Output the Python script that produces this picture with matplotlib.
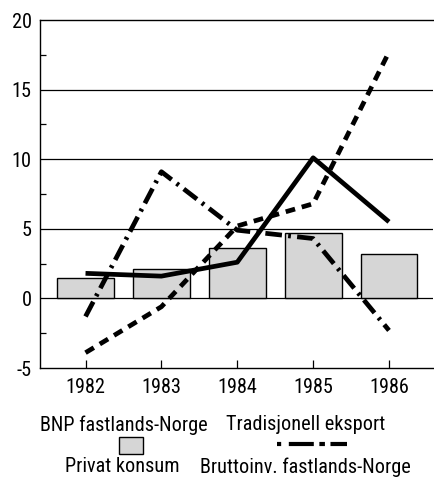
import matplotlib
matplotlib.use("Agg")
import matplotlib.pyplot as plt
from matplotlib.patches import Rectangle
from matplotlib.lines import Line2D
from matplotlib.textpath import TextPath
from matplotlib.font_manager import FontProperties
import numpy as np

years = ["1982", "1983", "1984", "1985", "1986"]
privat_konsum = [1.5, 2.1, 3.6, 4.7, 3.2]
bnp_fastland = [1.8, 1.6, 2.6, 10.1, 5.5]
trad_eksport = [-3.9, -0.6, 5.2, 6.8, 17.7]
bruttoinv = [-1.3, 9.1, 4.9, 4.3, -2.3]
yticks = [-5, 0, 5, 10, 15, 20]

FAMILY = 'Roboto Condensed'
plt.rcParams['font.family'] = [FAMILY, 'DejaVu Sans']
plt.rcParams['lines.scale_dashes'] = False
plt.rcParams['axes.unicode_minus'] = False

# choose font size so that legend text width matches the reference (~165 px)
tp = TextPath((0, 0), "BNP fastlands-Norge", size=100, prop=FontProperties(family=FAMILY))
w100 = tp.get_extents().width
fs = 165.0 / (w100 * 100 / 72) * 100
fs = min(fs, 16)

W, H = 434, 482
fig = plt.figure(figsize=(W / 100, H / 100), dpi=100)
ax = fig.add_axes([40 / W, (H - 368) / H, 393 / W, 348 / H])

x = np.arange(len(years))
bar_fc = '#d6d6d6'
ax.bar(x, privat_konsum, width=0.75, color=bar_fc, edgecolor='black', linewidth=1.0, zorder=2)

for yv in [0, 5, 10, 15]:
    ax.axhline(yv, color='black', linewidth=0.9, zorder=1)

lw = 3.4
dashdot = (0, (12, 4.5, 2, 4.5))
dashed = (0, (7, 5))
ax.plot(x, bnp_fastland, color='black', linewidth=lw, solid_capstyle='butt', zorder=3)
ax.plot(x, trad_eksport, color='black', linewidth=lw, linestyle=dashed, dash_capstyle='butt', zorder=3)
ax.plot(x, bruttoinv, color='black', linewidth=lw, linestyle=dashdot, dash_capstyle='butt', zorder=3)

ax.set_xlim(-0.6, 4.58)
ax.set_ylim(-5, 20)
ax.set_xticks(x)
ax.set_xticklabels(years)
ax.set_yticks(yticks)
ax.set_yticks(np.arange(-5, 20.1, 2.5), minor=True)
ax.tick_params(axis='x', direction='in', length=6, width=0.9, labelsize=fs, pad=7)
ax.tick_params(axis='y', which='both', direction='in', length=4, width=0.9, labelsize=fs, pad=6)
ax.tick_params(axis='y', which='major', length=0)
ax.spines['right'].set_visible(False)
for s in ['left', 'bottom', 'top']:
    ax.spines[s].set_linewidth(1.0)

# Legend (custom layout)
fig.text(40 / W, 1 - 425 / H, "BNP fastlands-Norge", fontsize=fs, ha='left', va='center')
fig.text(226 / W, 1 - 425 / H, "Tradisjonell eksport", fontsize=fs, ha='left', va='center')
fig.text(65 / W, 1 - 467 / H, "Privat konsum", fontsize=fs, ha='left', va='center')
fig.text(200 / W, 1 - 467 / H, "Bruttoinv. fastlands-Norge", fontsize=fs, ha='left', va='center')
fig.patches.append(Rectangle((119 / W, 1 - 454 / H), 24 / W, 17 / H, transform=fig.transFigure,
                             facecolor=bar_fc, edgecolor='black', linewidth=1.0))
fig.lines.append(Line2D([277 / W, 347 / W], [1 - 444 / H, 1 - 444 / H], transform=fig.transFigure,
                        color='black', linewidth=3.0,
                        linestyle=(0, (3, 5.5, 18, 4, 4, 4, 12, 40)), dash_capstyle='butt'))

fig.savefig("out.png", dpi=100)
